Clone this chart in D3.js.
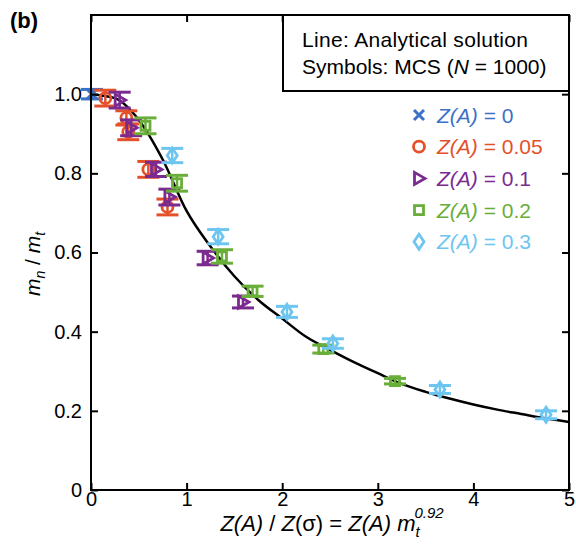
<!DOCTYPE html>
<html><head><meta charset="utf-8">
<script src="https://cdn.jsdelivr.net/npm/d3@7"></script>
<style>body{margin:0;background:#fff}svg{display:block}text{font-family:"Liberation Sans",Arial,sans-serif}</style>
</head><body><svg id="c" width="576" height="554"></svg>
<script>
const xTicks=[0,1,2,3,4,5];
const yTicks=[0,0.2,0.4,0.6,0.8,1.0];
const yTickLabels=["0","0.2","0.4","0.6","0.8","1.0"];
const curveX=[0,0.25,0.5,0.75,1.0,1.25,1.5,1.75,2.0,2.25,2.5,2.75,3.0,3.25,3.5,3.75,4.0,4.25,4.5,4.75,5.0];
const curveY=[1.0,0.99,0.935,0.835,0.705,0.615,0.54,0.48,0.433,0.387,0.354,0.323,0.295,0.268,0.248,0.231,0.216,0.203,0.192,0.181,0.172];
const seriesNames=["0","0.05","0.1","0.2","0.3"];
const seriesColors=["#3b72c6","#e4502a","#7b2a8f","#6aae3a","#6ec6f0"];
const seriesSymbols=["cross","circle","triangle","square","diamond"];
const z0X=[0.01], z0Y=[1.0], z0E=[0.012];
const z05X=[0.15,0.37,0.39,0.60,0.80], z05Y=[0.99,0.94,0.905,0.81,0.715], z05E=[0.02,0.018,0.02,0.02,0.02];
const z1X=[0.30,0.42,0.68,0.82,1.22,1.59], z1Y=[0.985,0.915,0.81,0.74,0.586,0.475], z1E=[0.02,0.02,0.018,0.02,0.017,0.015];
const z2X=[0.57,0.90,1.37,1.69,2.43,3.18], z2Y=[0.92,0.775,0.59,0.502,0.356,0.275], z2E=[0.02,0.02,0.017,0.013,0.01,0.007];
const z3X=[0.85,1.33,2.05,2.53,3.65,4.76], z3Y=[0.845,0.64,0.45,0.37,0.254,0.19], z3E=[0.018,0.018,0.014,0.012,0.01,0.01];
const seriesX=[z0X,z05X,z1X,z2X,z3X], seriesY=[z0Y,z05Y,z1Y,z2Y,z3Y], seriesE=[z0E,z05E,z1E,z2E,z3E];

const svg=d3.select("#c");
const L=91,R=569,T=15,B=490;
const x=d3.scaleLinear().domain([0,5]).range([L,R]);
const y=d3.scaleLinear().domain([0,1.2]).range([B,T]);
const FS=21;

const line=d3.line().x((d,i)=>x(curveX[i])).y((d,i)=>y(curveY[i])).curve(d3.curveMonotoneX);
svg.append("path").attr("d",line(curveX)).attr("fill","none").attr("stroke","#000").attr("stroke-width",2.5);

function symbol(g,type,color,cx,cy){
  const s=g.append("g").attr("transform",`translate(${cx},${cy})`).attr("fill","none").attr("stroke",color).attr("stroke-width",2.8);
  if(type==="cross"){s.append("path").attr("d","M-5,-5L5,5M-5,5L5,-5").attr("stroke-width",3);}
  else if(type==="circle"){s.append("circle").attr("r",5.5);}
  else if(type==="triangle"){s.append("path").attr("d","M-4.5,-6L6,0L-4.5,6Z");}
  else if(type==="square"){s.append("rect").attr("x",-4.5).attr("y",-4.5).attr("width",9).attr("height",9);}
  else if(type==="diamond"){s.append("path").attr("d","M0,-7.5L5,0L0,7.5L-5,0Z");}
}

seriesNames.forEach((n,si)=>{
  const g=svg.append("g");
  const c=seriesColors[si];
  seriesX[si].forEach((xv,i)=>{
    const cx=x(xv), cy=y(seriesY[si][i]), e=seriesE[si][i];
    const y1=y(seriesY[si][i]+e), y2=y(seriesY[si][i]-e);
    g.append("line").attr("x1",cx).attr("x2",cx).attr("y1",y1).attr("y2",y2).attr("stroke",c).attr("stroke-width",2.5);
    g.append("line").attr("x1",cx-11).attr("x2",cx+11).attr("y1",y1).attr("y2",y1).attr("stroke",c).attr("stroke-width",3);
    g.append("line").attr("x1",cx-11).attr("x2",cx+11).attr("y1",y2).attr("y2",y2).attr("stroke",c).attr("stroke-width",3);
    symbol(g,seriesSymbols[si],c,cx,cy);
  });
});

svg.append("rect").attr("x",L).attr("y",T).attr("width",R-L).attr("height",B-T).attr("fill","none").attr("stroke","#000").attr("stroke-width",2);
const tl=7;
const gx=svg.append("g").attr("transform",`translate(0,${B})`).call(d3.axisBottom(x).tickValues(xTicks).tickSize(-tl).tickPadding(2).tickFormat(d3.format("d")));
const gxt=svg.append("g").attr("transform",`translate(0,${T})`).call(d3.axisTop(x).tickValues(xTicks).tickSize(-tl).tickFormat(""));
const gy=svg.append("g").attr("transform",`translate(${L},0)`).call(d3.axisLeft(y).tickValues(yTicks).tickSize(-tl).tickPadding(9).tickFormat((d,i)=>yTickLabels[i]));
const gyr=svg.append("g").attr("transform",`translate(${R},0)`).call(d3.axisRight(y).tickValues(yTicks).tickSize(-tl).tickFormat(""));
[gx,gxt,gy,gyr].forEach(g=>{g.select(".domain").remove();g.selectAll("line").attr("stroke","#000").attr("stroke-width",2);g.selectAll("text").attr("font-size",20).attr("fill","#000").style("font-family","Liberation Sans, Arial, sans-serif");});

svg.append("rect").attr("x",283).attr("y",T).attr("width",R-283).attr("height",91-T).attr("fill","#fff").attr("stroke","#000").attr("stroke-width",2);
svg.append("text").attr("x",302).attr("y",47).attr("font-size",FS).attr("textLength",226).text("Line: Analytical solution");
const t2=svg.append("text").attr("x",302).attr("y",74).attr("font-size",FS);
t2.append("tspan").text("Symbols: MCS (");
t2.append("tspan").attr("font-style","italic").text("N");
t2.append("tspan").text(" = 1000)");

seriesNames.forEach((n,i)=>{
  const yy=115+i*31.7;
  symbol(svg,seriesSymbols[i],seriesColors[i],419,yy);
  const t=svg.append("text").attr("x",437).attr("y",yy+7.5).attr("font-size",FS).attr("fill",seriesColors[i]);
  t.append("tspan").attr("font-style","italic").text("Z(A)");
  t.append("tspan").text(" = "+n);
});

// x title (main part + subscript), superscript as separate text
const xt=svg.append("text").attr("x",320).attr("y",531).attr("text-anchor","middle").attr("font-size",22);
const parts=[["Z(A)",true],[" / ",false],["Z",true],["(σ) = ",false],["Z(A) m",true]];
parts.forEach(p=>xt.append("tspan").attr("font-style",p[1]?"italic":null).text(p[0]));
xt.append("tspan").attr("font-style","italic").attr("font-size",15).attr("dy",6).text("t");
const idx=parts.map(p=>p[0]).join("").length;
let supX=430;
try{ supX=xt.node().getStartPositionOfChar(idx).x-1; }catch(e){}
svg.append("text").attr("x",supX).attr("y",518).attr("font-size",15).attr("font-style","italic").text("0.92");

const yt=svg.append("text").attr("transform","translate(40,264) rotate(-90)").attr("text-anchor","middle").attr("font-size",21);
yt.append("tspan").attr("font-style","italic").text("m");
yt.append("tspan").attr("font-style","italic").attr("font-size",14).attr("dy",5).text("n");
yt.append("tspan").attr("dy",-5).text(" / ");
yt.append("tspan").attr("font-style","italic").text("m");
yt.append("tspan").attr("font-style","italic").attr("font-size",14).attr("dy",5).text("t");

svg.append("text").attr("x",10).attr("y",28).attr("font-size",22).attr("font-weight","bold").text("(b)");
</script></body></html>
